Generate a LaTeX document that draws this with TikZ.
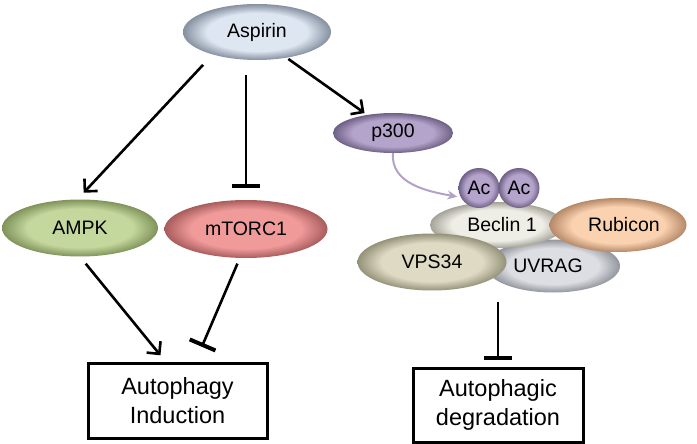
\documentclass[tikz,border=0pt]{standalone}
\usepackage{fontspec}
\setmainfont{Liberation Sans}
\usetikzlibrary{arrows.meta,shapes.geometric,calc}

\definecolor{aspI}{HTML}{DDE6F1}\definecolor{aspO}{HTML}{8590A0}
\definecolor{ampI}{HTML}{C4D79D}\definecolor{ampO}{HTML}{7F935A}
\definecolor{mtoI}{HTML}{F09A9A}\definecolor{mtoO}{HTML}{A85C5C}
\definecolor{p3I}{HTML}{B4A3CA}\definecolor{p3O}{HTML}{6E6085}
\definecolor{becI}{HTML}{EFEEE6}\definecolor{becO}{HTML}{A5A398}
\definecolor{rubI}{HTML}{FAD2B0}\definecolor{rubO}{HTML}{B58868}
\definecolor{vpsI}{HTML}{DEDAC4}\definecolor{vpsO}{HTML}{959279}
\definecolor{uvrI}{HTML}{DCDEE3}\definecolor{uvrO}{HTML}{93959D}
\definecolor{acline}{HTML}{B3A2C7}

\newcommand{\softsh}[3]{\pgfdeclareradialshading{#1}{\pgfpoint{0bp}{0bp}}{color(0bp)=(#2); color(17bp)=(#2); color(25bp)=(#3); color(50bp)=(#3)}}
\softsh{aspsh}{aspI}{aspO}
\softsh{ampsh}{ampI}{ampO}
\softsh{mtosh}{mtoI}{mtoO}
\softsh{p3sh}{p3I}{p3O}
\softsh{becsh}{becI}{becO}
\softsh{rubsh}{rubI}{rubO}
\softsh{vpssh}{vpsI}{vpsO}
\softsh{uvrsh}{uvrI}{uvrO}

\tikzset{
  blob/.style={ellipse, inner sep=0pt, font=\fontsize{19.5}{23}\selectfont},
  outbox/.style={draw=black, line width=3pt, inner sep=0pt, align=center,
    font=\fontsize{23.5}{29}\selectfont},
  act/.style={line width=2.6pt, -{Straight Barb[length=9pt,width=18pt,line width=2.6pt]}},
  inh/.style={line width=2.6pt, -{Bar[width=28pt,line width=4pt]}},
  acarr/.style={draw=acline, line width=2pt, -{Stealth[length=10pt,width=9pt]}},
}

\begin{document}
\begin{tikzpicture}[x=1pt,y=-1pt]
\useasboundingbox (0,0) rectangle (697,444);

\node[blob, shading=aspsh, minimum width=148pt, minimum height=56pt] (aspirin) at (257,32) {Aspirin};
\node[blob, shading=ampsh, minimum width=156pt, minimum height=57pt] (ampk) at (80,228) {AMPK};
\node[blob, shading=mtosh, minimum width=163pt, minimum height=58pt] (mtorc1) at (246,229) {mTORC1};
\node[blob, shading=p3sh, minimum width=120pt, minimum height=40pt] (p300) at (393,133) {p300};

\node[blob, shading=uvrsh, minimum width=134pt, minimum height=53pt] (uvrag) at (553,266) {\hspace*{-10pt}UVRAG};
\node[blob, shading=becsh, minimum width=134pt, minimum height=46pt] (beclin) at (497,225) {\hspace*{10pt}Beclin 1};
\node[blob, shading=rubsh, minimum width=137pt, minimum height=54pt] (rubicon) at (618,225) {\hspace*{12pt}Rubicon};
\node[blob, shading=vpssh, minimum width=149pt, minimum height=57pt] (vps34) at (432,262) {VPS34};
\node[blob, shading=p3sh, minimum width=41pt, minimum height=40pt] (ac1) at (479,188) {Ac};
\node[blob, shading=p3sh, minimum width=41pt, minimum height=40pt] (ac2) at (519,188) {Ac};

\node[outbox, minimum width=179pt, minimum height=75pt] (autoind) at (177.5,400.5) {Autophagy\\Induction};
\node[outbox, minimum width=170pt, minimum height=74pt] (autodeg) at (498,405) {Autophagic\\degradation};

\draw[act, shorten <=14pt, shorten >=9pt] (aspirin.207) -- (ampk.95);
\draw[inh, shorten <=15pt, shorten >=12pt] (aspirin.south -| mtorc1.north) -- (mtorc1.north);
\draw[act, shorten <=2pt, shorten >=3pt] (aspirin.319) -- (p300.145);
\draw[acarr] (p300.south) to[out=-95, in=170] ([xshift=-3pt]ac1.205);

\draw[act, shorten <=9pt, shorten >=8pt] (ampk.south) -- ([xshift=-12pt]autoind.north);
\draw[inh, shorten <=6pt, shorten >=16pt] (mtorc1.258) -- ([xshift=18pt]autoind.north);
\draw[inh, shorten <=9pt, shorten >=7pt] (autodeg.north |- uvrag.south) -- (autodeg.north);
\end{tikzpicture}
\end{document}
